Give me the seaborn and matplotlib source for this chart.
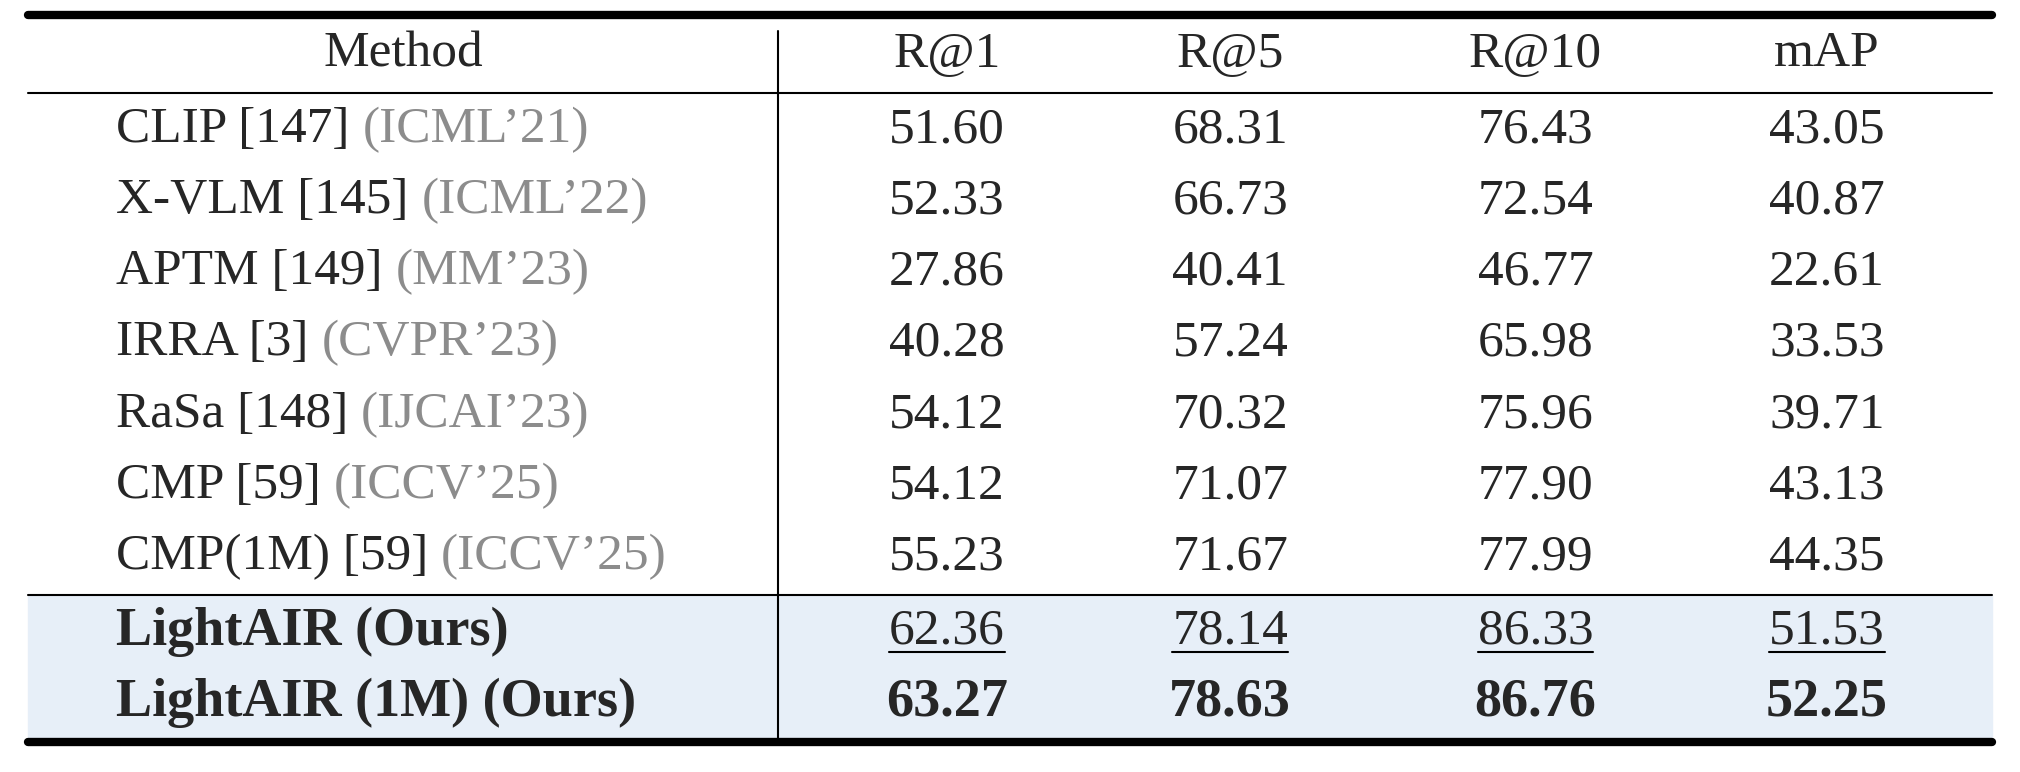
import matplotlib
matplotlib.use("Agg")
import matplotlib.pyplot as plt
import seaborn as sns

sns.set_theme(style="white")
plt.rcParams['font.family'] = ['Liberation Serif', 'DejaVu Serif']

headers = ["Method", "R@1", "R@5", "R@10", "mAP"]
methods = ["CLIP [147]", "X-VLM [145]", "APTM [149]", "IRRA [3]", "RaSa [148]", "CMP [59]", "CMP(1M) [59]",
           "LightAIR (Ours)", "LightAIR (1M) (Ours)"]
venues = ["(ICML’21)", "(ICML’22)", "(MM’23)", "(CVPR’23)", "(IJCAI’23)", "(ICCV’25)", "(ICCV’25)", "", ""]
r1 = ["51.60", "52.33", "27.86", "40.28", "54.12", "54.12", "55.23", "62.36", "63.27"]
r5 = ["68.31", "66.73", "40.41", "57.24", "70.32", "71.07", "71.67", "78.14", "78.63"]
r10 = ["76.43", "72.54", "46.77", "65.98", "75.96", "77.90", "77.99", "86.33", "86.76"]
mAP = ["43.05", "40.87", "22.61", "33.53", "39.71", "43.13", "44.35", "51.53", "52.25"]

W, H = 1568, 599
fig = plt.figure(figsize=(20.2, 7.72), dpi=100)
ax = fig.add_axes([0, 0, 1, 1])
ax.set_xlim(0, W); ax.set_ylim(H, 0); ax.axis("off")
fs = 37

ax.axhspan(462, 573, xmin=22/W, xmax=1546/W, color="#E7EFF8", zorder=0)
ax.plot([22, 1546], [12, 12], color="black", lw=6)
ax.plot([22, 1546], [72, 72], color="black", lw=1.5)
ax.plot([22, 1546], [462, 462], color="black", lw=1.5)
ax.plot([22, 1546], [576, 576], color="black", lw=6)
ax.plot([604, 604], [24, 573], color="black", lw=1.5)

colx = [735, 955, 1192, 1418]
dy = 3
ax.text(313, 42, headers[0], ha="center", va="center", fontsize=fs)
for x, h in zip(colx, headers[1:]):
    ax.text(x, 42, h, ha="center", va="center", fontsize=fs)

rows_y = [98, 153, 208, 263, 319, 374, 429, 487, 542]
fig.canvas.draw()
r = fig.canvas.get_renderer()
inv = ax.transData.inverted()
for i, y in enumerate(rows_y):
    bold = i >= 7
    t = ax.text(90, y + dy, methods[i], ha="left", va="center", fontsize=fs + (2 if bold else 0),
                fontweight="bold" if bold else "normal")
    if venues[i]:
        bb = t.get_window_extent(renderer=r)
        x1 = inv.transform((bb.x1, bb.y0))[0]
        ax.text(x1 + 10, y + dy, venues[i], ha="left", va="center", fontsize=fs, color="#8C8C8C")
    for x, col in zip(colx, [r1, r5, r10, mAP]):
        tt = ax.text(x, y + dy, col[i], ha="center", va="center", fontsize=fs + (2 if i == 8 else 0),
                     fontweight="bold" if i == 8 else "normal")
        if i == 7:
            bb = tt.get_window_extent(renderer=r)
            xa = inv.transform((bb.x0, 0))[0]; xb = inv.transform((bb.x1, 0))[0]
            ax.plot([xa, xb], [y + 19, y + 19], color="black", lw=1.5)

fig.savefig("out.png", dpi=100, facecolor="white")
